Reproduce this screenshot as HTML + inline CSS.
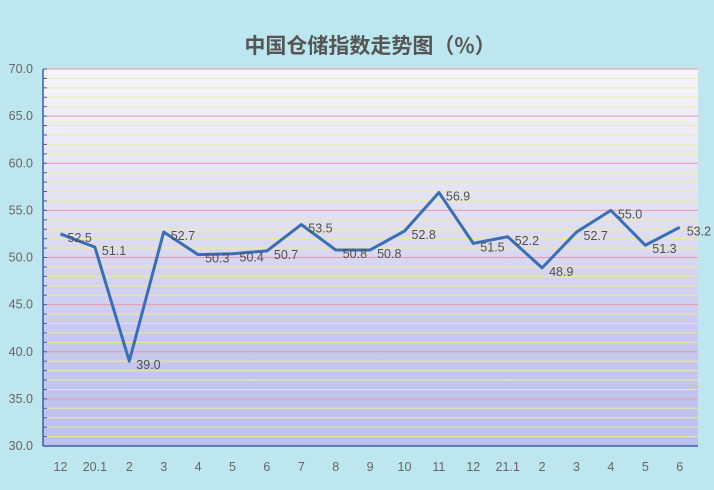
<!DOCTYPE html><html><head><meta charset="utf-8"><style>body{margin:0;width:714px;height:485px;overflow:hidden;background:#bde6ef}</style></head><body>
<svg width="714" height="485" xmlns="http://www.w3.org/2000/svg" font-family="Liberation Sans, Noto Sans CJK SC, sans-serif">
<defs><linearGradient id="g" x1="0" y1="0" x2="0" y2="1"><stop offset="0" stop-color="#f6f4fb"/><stop offset="0.4" stop-color="#e0dff2"/><stop offset="0.7" stop-color="#c9c9ee"/><stop offset="1" stop-color="#bcc0ec"/></linearGradient></defs>
<rect x="0" y="0" width="714" height="485" fill="#bde6ef"/>
<text x="370" y="53" text-anchor="middle" font-size="21" font-weight="bold" fill="#555" font-family="Noto Sans CJK SC, sans-serif">中国仓储指数走势图（%）</text>
<rect x="43" y="69" width="655" height="377" fill="url(#g)"/>
<g id="grid"></g>
<line x1="43" y1="69" x2="43" y2="446" stroke="#3a5fa8" stroke-width="1.5"/>
<line x1="43" y1="446" x2="698" y2="446" stroke="#3a5fa8" stroke-width="1.5"/>
<g id="ticks" font-size="12.5" fill="#666"></g>
<polyline id="line" fill="none" stroke="#3b6eb5" stroke-width="3" stroke-linejoin="round"/>
<g id="labels" font-size="12.5" fill="#505050"></g>
</svg>
<script>
const NS="http://www.w3.org/2000/svg";
function el(t,a,p,txt){const e=document.createElementNS(NS,t);for(const k in a)e.setAttribute(k,a[k]);if(txt!==undefined)e.textContent=txt;document.getElementById(p).appendChild(e);}
const Y=v=>446-(v-30)*9.425;
for(let v=31;v<=70;v++){const y=Y(v);const maj=v%5==0;el('line',{x1:43,x2:698,y1:y,y2:y,stroke:maj?'#e49aa8':'#ecec9a','stroke-width':1},'grid');el('line',{x1:43,x2:47,y1:y,y2:y,stroke:'#3a5fa8'},'grid');}
for(let v=30;v<=70;v+=5)el('text',{x:33,y:Y(v)+4,'text-anchor':'end'},'ticks',v.toFixed(1));
const cats=['12','20.1','2','3','4','5','6','7','8','9','10','11','12','21.1','2','3','4','5','6'];
const vals=[52.5,51.1,39.0,52.7,50.3,50.4,50.7,53.5,50.8,50.8,52.8,56.9,51.5,52.2,48.9,52.7,55.0,51.3,53.2];
const X=i=>60.5+i*34.4;
cats.forEach((c,i)=>el('text',{x:X(i),y:471,'text-anchor':'middle'},'ticks',c));
document.getElementById('line').setAttribute('points',vals.map((v,i)=>X(i)+','+Y(v)).join(' '));
vals.forEach((v,i)=>el('text',{x:X(i)+7,y:Y(v)+8},'labels',v.toFixed(1)));
</script>
</body></html>
